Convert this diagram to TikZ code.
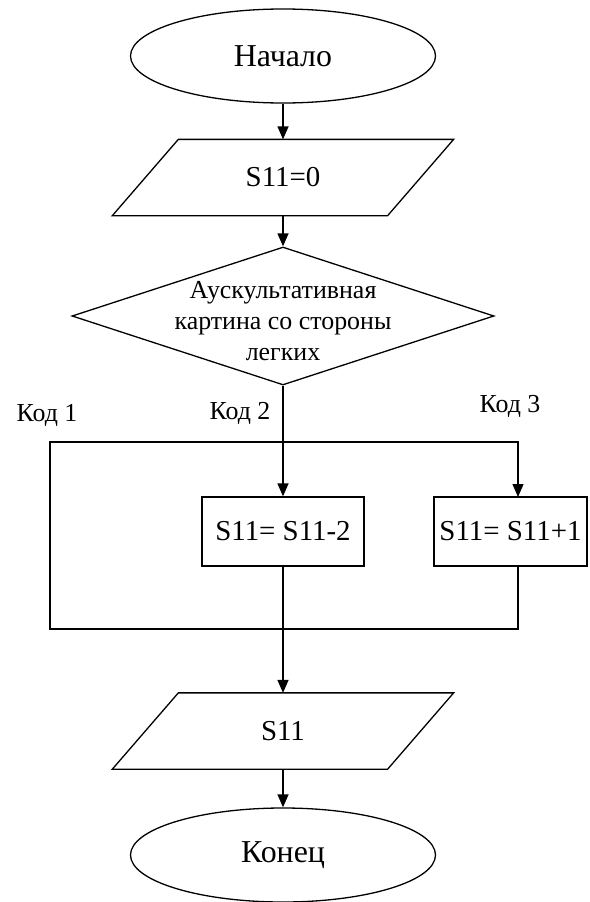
\documentclass[tikz,border=0pt]{standalone}
\usepackage{fontspec}
\setmainfont{Liberation Serif}
\usetikzlibrary{arrows.meta,shapes.geometric}
\begin{document}
\begin{tikzpicture}[x=1bp,y=-1bp,
  line width=1.3bp,
  flow/.style={-{Triangle[length=13bp,width=11bp]}},
  terminal/.style={draw, ellipse, minimum width=305bp, minimum height=94bp,
    inner sep=0pt, font=\fontsize{32}{38}\selectfont},
  iobox/.style={minimum width=274bp, minimum height=75bp, inner sep=0pt,
    font=\fontsize{29}{34}\selectfont},
  procbox/.style={draw, rectangle, minimum height=69bp, inner sep=0pt,
    font=\fontsize{29}{34}\selectfont},
  decision/.style={draw, diamond, minimum width=422bp, minimum height=138bp,
    inner sep=0pt},
  caption/.style={font=\fontsize{26}{31}\selectfont, inner sep=0pt, align=center},
]
\useasboundingbox (0,0) rectangle (590,902);

% terminals, input/output and decision
\node[terminal] (start) at (283,56) {Начало};
\node[iobox] (init) at (283,177.5) {S11=0};
\node[decision] (cond) at (283,316) {};
\node[caption] (condtext) at (283,321) {Аускультативная\\картина со стороны\\легких};
\node[procbox, minimum width=162bp] (dec) at (283,531.5) {S11= S11-2};
\node[procbox, minimum width=153bp] (inc) at (510.5,531.5) {S11= S11+1};
\node[iobox] (out) at (283,731) {S11};
\node[terminal] (stop) at (283,855) {Конец};

% slanted outlines of the input/output blocks
\foreach \p in {init,out}{
  \draw ([xshift=33bp]\p.north west) -- ([xshift=33bp]\p.north east)
     -- ([xshift=-33bp]\p.south east) -- ([xshift=-33bp]\p.south west) -- cycle;
}

% branch labels
\node[caption] (k1) at (47,415) {Код 1};
\node[caption] (k2) at (240,413) {Код 2};
\node[caption] (k3) at (510,406) {Код 3};

% branch frame
\coordinate (top) at (283,442);
\coordinate (topl) at (50,442);
\coordinate (topr) at (518,442);
\coordinate (botl) at (50,629);
\coordinate (botr) at (518,629);
\coordinate (incin) at (518,497);
\coordinate (incout) at (518,566);

% connectors
\draw[flow] (start.south) -- (init.north);
\draw[flow] (init.south) -- (cond.north);
\draw[flow] (cond.south) -- (dec.north);
\draw (top) -- (topl) -- (botl) -- (botr) -- (incout);
\draw[flow] (top) -- (topr) -- (incin);
\draw[flow] (dec.south) -- (out.north);
\draw[flow] (out.south) -- (stop.north);
\end{tikzpicture}
\end{document}
